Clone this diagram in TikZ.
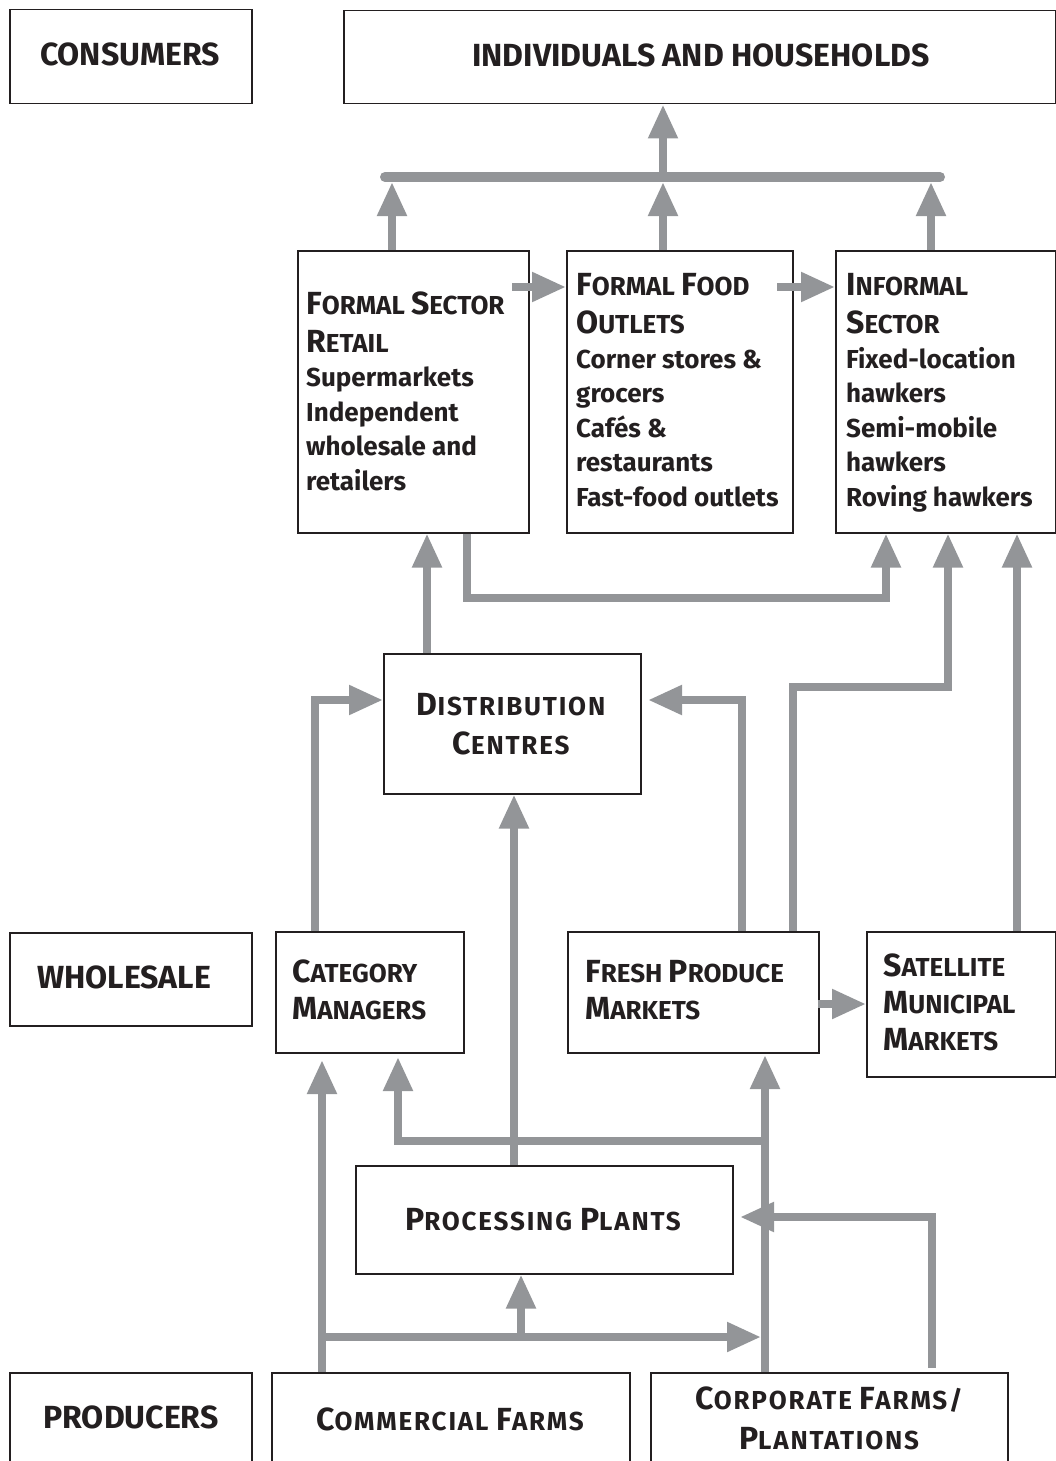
\documentclass[tikz,border=0pt]{standalone}
\usepackage{fontspec}
\setmainfont{Fira Sans}
\newfontfamily\widefam{Fira Sans}[LetterSpace=7]
\usetikzlibrary{arrows.meta}
\definecolor{arrgrey}{HTML}{939598}
\definecolor{ink}{HTML}{231F20}
\newcommand\BIGc{\fontsize{32}{37}\selectfont}
\newcommand\SMLc{\fontsize{26}{37}\selectfont}
\newcommand\sck[2]{{\BIGc #1}{\SMLc #2}}
\begin{document}
\begin{tikzpicture}[x=1pt,y=-1pt,
  box/.style={draw=ink, line width=1.5pt, inner sep=0pt, anchor=north west},
  arr/.style={draw=arrgrey, line width=8pt, -{Triangle[length=34pt,width=28pt]}},
  lnk/.style={draw=arrgrey, line width=10pt, line cap=round},
  lbl/.style={inner sep=0pt, text=ink, anchor=base, font=\bfseries\BIGc},
  wlbl/.style={inner sep=0pt, text=ink, anchor=base, align=center, font=\widefam\bfseries\fontsize{26}{37}\selectfont},
  hd/.style={inner sep=0pt, text=ink, align=left, anchor=base west, font=\bfseries\fontsize{26}{36.5}\selectfont},
  bd/.style={inner sep=0pt, text=ink, align=left, anchor=base west, font=\bfseries\fontsize{26}{34.5}\selectfont},
]
\useasboundingbox (0,0) rectangle (1056,1461);
% boxes
\node[box, minimum width=242pt, minimum height=94pt] (consumers) at (9,9) {};
\node[box, minimum width=712pt, minimum height=93pt] (households) at (343,10) {};
\node[box, minimum width=231pt, minimum height=282pt] (retail) at (297,250) {};
\node[box, minimum width=226pt, minimum height=282pt] (food) at (566,250) {};
\node[box, minimum width=220pt, minimum height=282pt] (informal) at (835,250) {};
\node[box, minimum width=257pt, minimum height=140pt] (dc) at (383,653) {};
\node[box, minimum width=242pt, minimum height=93pt] (wholesale) at (9,932) {};
\node[box, minimum width=188pt, minimum height=121pt] (catman) at (275,931) {};
\node[box, minimum width=251pt, minimum height=121pt] (fresh) at (567,931) {};
\node[box, minimum width=189pt, minimum height=145pt] (satellite) at (866,931) {};
\node[box, minimum width=377pt, minimum height=108pt] (processing) at (355,1165) {};
\node[box, minimum width=242pt, minimum height=100pt] (producers) at (9,1372) {};
\node[box, minimum width=358pt, minimum height=100pt] (commercial) at (271,1372) {};
\node[box, minimum width=357pt, minimum height=100pt] (corporate) at (650,1372) {};
% texts (base anchor = baseline of the last line)
\node[lbl] (consumersT) at (130,66) {CONSUMERS};
\node[lbl] (householdsT) at (701,67) {INDIVIDUALS AND HOUSEHOLDS};
\node[bd] (retailT) at (306,490) {\sck{F}{ORMAL} \sck{S}{ECTOR}\\[3.5pt] \sck{R}{ETAIL}\\ Supermarkets\\ Independent\\ wholesale and\\ retailers};
\node[bd] (foodT) at (576,506) {\sck{F}{ORMAL} \sck{F}{OOD}\\[3.5pt] \sck{O}{UTLETS}\\ Corner stores \&\\ grocers\\ Cafés \&\\ restaurants\\ Fast-food outlets};
\node[bd] (informalT) at (846,506) {\sck{I}{NFORMAL}\\[3.5pt] \sck{S}{ECTOR}\\ Fixed-location\\ hawkers\\ Semi-mobile\\ hawkers\\ Roving hawkers};
\node[wlbl] (dcT) at (511,754) {\sck{D}{ISTRIBUTION}\\[1.5pt] \sck{C}{ENTRES}};
\node[lbl] (wholesaleT) at (124,988) {WHOLESALE};
\node[hd] (catmanT) at (292,1019) {\sck{C}{ATEGORY}\\ \sck{M}{ANAGERS}};
\node[hd] (freshT) at (585,1019) {\sck{F}{RESH} \sck{P}{RODUCE}\\ \sck{M}{ARKETS}};
\node[hd] (satelliteT) at (883,1050) {\sck{S}{ATELLITE}\\[0.5pt] \sck{M}{UNICIPAL}\\[0.5pt] \sck{M}{ARKETS}};
\node[wlbl] (processingT) at (543,1230) {\sck{P}{ROCESSING} \sck{P}{LANTS}};
\node[lbl] (producersT) at (131,1428) {PRODUCERS};
\node[wlbl] (commercialT) at (450,1430) {\sck{C}{OMMERCIAL} \sck{F}{ARMS}};
\node[wlbl] (corporateT) at (829,1449) {\sck{C}{ORPORATE} \sck{F}{ARMS/}\\[2.5pt] \sck{P}{LANTATIONS}};
% connectors: consumers level
\coordinate (barL) at (385,177); \coordinate (barR) at (940,177);
\draw[lnk] (barL) -- (barR);
\coordinate (b0) at (663,177); \draw[arr] (b0) -- (b0 |- households.south);
\coordinate (b1) at (392,182); \draw[arr] (b1 |- retail.north) -- (b1);
\coordinate (b2) at (663,182); \draw[arr] (b2 |- food.north) -- (b2);
\coordinate (b3) at (931,182); \draw[arr] (b3 |- informal.north) -- (b3);
\coordinate (rf) at (512,287); \draw[arr] (rf) -- (rf -| food.west);
\coordinate (fi) at (777,287); \draw[arr] (fi) -- (fi -| informal.west);
\coordinate (ri1) at (467,598); \coordinate (ri2) at (886,598);
\draw[arr] (ri1 |- retail.south) -- (ri1) -- (ri2) -- (ri2 |- informal.south);
% distribution level
\coordinate (dr) at (427,0); \draw[arr] (dr |- dc.north) -- (dr |- retail.south);
\coordinate (fi1) at (793,687); \coordinate (fi2) at (948,687);
\draw[arr] (fi1 |- fresh.north) -- (fi1) -- (fi2) -- (fi2 |- informal.south);
\coordinate (si) at (1017,0); \draw[arr] (si |- satellite.north) -- (si |- informal.south);
\coordinate (fd1) at (742,700); \coordinate (fd2) at (648,700);
\draw[arr] (fd1 |- fresh.north) -- (fd1) -- (fd2);
\coordinate (cd) at (315,700); \draw[arr] (cd |- catman.north) -- (cd) -- (cd -| dc.west);
\coordinate (pd) at (514,0); \draw[arr] (pd |- processing.north) -- (pd |- dc.south);
\coordinate (fs) at (818,1004); \draw[arr] (fs) -- (fs -| satellite.west);
% producers level
\coordinate (cc) at (322,1060); \draw[arr] (cc |- commercial.north) -- (cc);
\coordinate (ch1) at (322,1337); \coordinate (ch2) at (761,1337); \draw[arr] (ch1) -- (ch2);
\coordinate (cp) at (521,1337); \draw[arr] (cp) -- (cp |- processing.south);
\coordinate (cf) at (765,1055); \draw[arr] (cf |- corporate.north) -- (cf);
\coordinate (cm1) at (765,1141); \coordinate (cm2) at (398,1141); \coordinate (cm3) at (398,1057);
\draw[arr] (cm1) -- (cm2) -- (cm3);
\coordinate (cq1) at (932,1368); \coordinate (cq2) at (932,1217); \coordinate (cq3) at (740,1217);
\draw[arr] (cq1) -- (cq2) -- (cq3);
\end{tikzpicture}
\end{document}
